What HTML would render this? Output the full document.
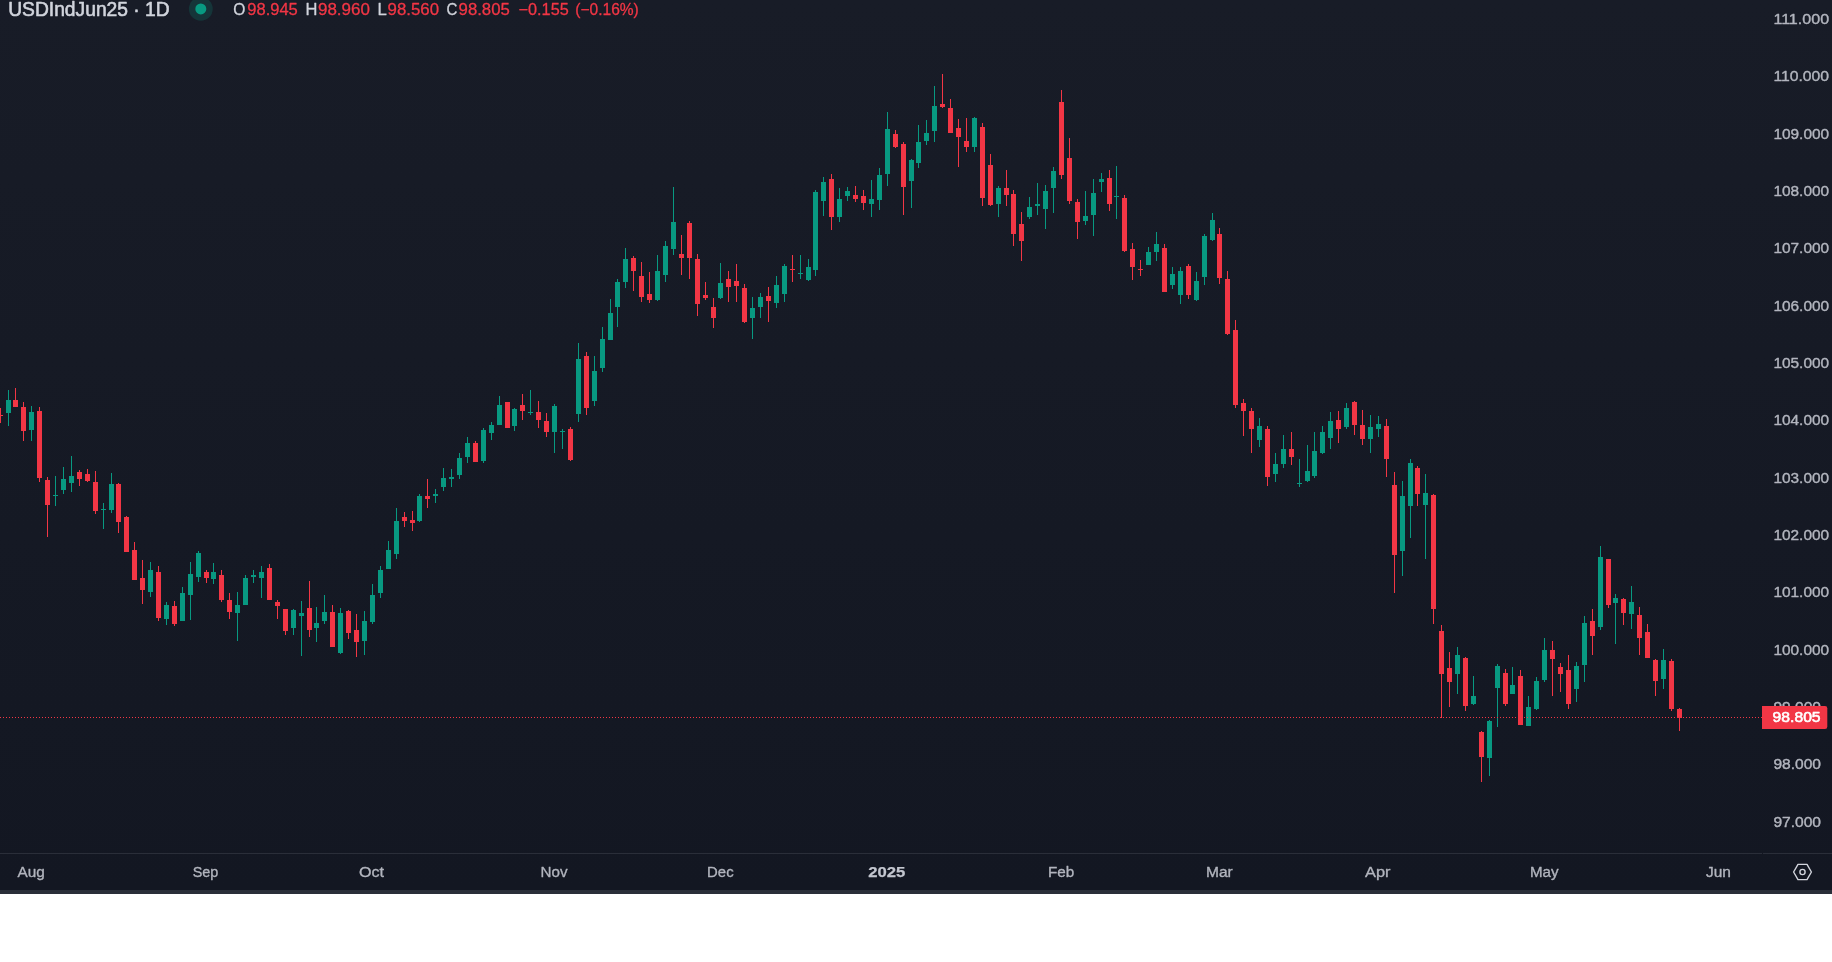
<!DOCTYPE html>
<html><head><meta charset="utf-8"><title>USDIndJun25 1D</title>
<style>html,body{margin:0;padding:0;background:#fff;}body{width:1832px;height:962px;overflow:hidden;font-family:"Liberation Sans",sans-serif;}svg{display:block;}text{font-family:"Liberation Sans",sans-serif;}</style></head><body>
<svg width="1832" height="962" viewBox="0 0 1832 962">
<defs><linearGradient id="bg" x1="0" y1="0" x2="0" y2="1"><stop offset="0" stop-color="#181c27"/><stop offset="1" stop-color="#131722"/></linearGradient></defs>
<rect x="0" y="0" width="1832" height="962" fill="#ffffff"/>
<rect x="0" y="0" width="1832" height="890" fill="url(#bg)"/>
<rect x="0" y="890" width="1832" height="4" fill="#2a2e39"/>
<rect x="0" y="853" width="1832" height="1" fill="#2a2e39"/>
<rect x="1762" y="853" width="1" height="1" fill="#131722"/>
<g shape-rendering="crispEdges">
<rect x="0" y="408" width="1" height="15" fill="#f23645"/><rect x="-2" y="415" width="5" height="1" fill="#f23645"/>
<rect x="8" y="390" width="1" height="36" fill="#089981"/><rect x="6" y="400" width="5" height="13" fill="#089981"/>
<rect x="15" y="388" width="1" height="19" fill="#f23645"/><rect x="13" y="400" width="5" height="7" fill="#f23645"/>
<rect x="23" y="402" width="1" height="39" fill="#f23645"/><rect x="21" y="407" width="5" height="24" fill="#f23645"/>
<rect x="31" y="406" width="1" height="35" fill="#089981"/><rect x="29" y="412" width="5" height="18" fill="#089981"/>
<rect x="39" y="407" width="1" height="75" fill="#f23645"/><rect x="37" y="411" width="5" height="67" fill="#f23645"/>
<rect x="47" y="477" width="1" height="60" fill="#f23645"/><rect x="45" y="480" width="5" height="25" fill="#f23645"/>
<rect x="55" y="476" width="1" height="30" fill="#089981"/><rect x="53" y="495" width="5" height="1" fill="#089981"/>
<rect x="63" y="467" width="1" height="27" fill="#089981"/><rect x="61" y="479" width="5" height="11" fill="#089981"/>
<rect x="71" y="456" width="1" height="36" fill="#089981"/><rect x="69" y="476" width="5" height="7" fill="#089981"/>
<rect x="79" y="470" width="1" height="16" fill="#f23645"/><rect x="77" y="472" width="5" height="7" fill="#f23645"/>
<rect x="87" y="469" width="1" height="13" fill="#f23645"/><rect x="85" y="474" width="5" height="7" fill="#f23645"/>
<rect x="95" y="471" width="1" height="43" fill="#f23645"/><rect x="93" y="482" width="5" height="29" fill="#f23645"/>
<rect x="103" y="503" width="1" height="26" fill="#089981"/><rect x="101" y="509" width="5" height="1" fill="#089981"/>
<rect x="111" y="473" width="1" height="40" fill="#089981"/><rect x="109" y="484" width="5" height="26" fill="#089981"/>
<rect x="118" y="483" width="1" height="50" fill="#f23645"/><rect x="116" y="484" width="5" height="38" fill="#f23645"/>
<rect x="126" y="516" width="1" height="36" fill="#f23645"/><rect x="124" y="517" width="5" height="35" fill="#f23645"/>
<rect x="134" y="542" width="1" height="38" fill="#f23645"/><rect x="132" y="550" width="5" height="30" fill="#f23645"/>
<rect x="142" y="560" width="1" height="44" fill="#f23645"/><rect x="140" y="578" width="5" height="12" fill="#f23645"/>
<rect x="150" y="562" width="1" height="35" fill="#089981"/><rect x="148" y="570" width="5" height="22" fill="#089981"/>
<rect x="158" y="566" width="1" height="55" fill="#f23645"/><rect x="156" y="572" width="5" height="46" fill="#f23645"/>
<rect x="166" y="602" width="1" height="23" fill="#089981"/><rect x="164" y="605" width="5" height="14" fill="#089981"/>
<rect x="174" y="601" width="1" height="25" fill="#f23645"/><rect x="172" y="606" width="5" height="18" fill="#f23645"/>
<rect x="182" y="587" width="1" height="34" fill="#089981"/><rect x="180" y="593" width="5" height="28" fill="#089981"/>
<rect x="190" y="562" width="1" height="58" fill="#089981"/><rect x="188" y="574" width="5" height="21" fill="#089981"/>
<rect x="198" y="551" width="1" height="31" fill="#089981"/><rect x="196" y="553" width="5" height="24" fill="#089981"/>
<rect x="206" y="570" width="1" height="13" fill="#f23645"/><rect x="204" y="572" width="5" height="6" fill="#f23645"/>
<rect x="213" y="563" width="1" height="21" fill="#089981"/><rect x="211" y="572" width="5" height="7" fill="#089981"/>
<rect x="221" y="570" width="1" height="32" fill="#f23645"/><rect x="219" y="575" width="5" height="25" fill="#f23645"/>
<rect x="229" y="593" width="1" height="26" fill="#f23645"/><rect x="227" y="600" width="5" height="12" fill="#f23645"/>
<rect x="237" y="592" width="1" height="49" fill="#089981"/><rect x="235" y="605" width="5" height="8" fill="#089981"/>
<rect x="245" y="575" width="1" height="30" fill="#089981"/><rect x="243" y="578" width="5" height="27" fill="#089981"/>
<rect x="253" y="570" width="1" height="13" fill="#089981"/><rect x="251" y="575" width="5" height="2" fill="#089981"/>
<rect x="261" y="566" width="1" height="32" fill="#089981"/><rect x="259" y="572" width="5" height="6" fill="#089981"/>
<rect x="269" y="564" width="1" height="36" fill="#f23645"/><rect x="267" y="568" width="5" height="32" fill="#f23645"/>
<rect x="277" y="600" width="1" height="19" fill="#f23645"/><rect x="275" y="602" width="5" height="4" fill="#f23645"/>
<rect x="285" y="609" width="1" height="26" fill="#f23645"/><rect x="283" y="609" width="5" height="22" fill="#f23645"/>
<rect x="293" y="609" width="1" height="26" fill="#089981"/><rect x="291" y="610" width="5" height="18" fill="#089981"/>
<rect x="301" y="601" width="1" height="55" fill="#089981"/><rect x="299" y="613" width="5" height="3" fill="#089981"/>
<rect x="309" y="581" width="1" height="56" fill="#f23645"/><rect x="307" y="608" width="5" height="22" fill="#f23645"/>
<rect x="316" y="607" width="1" height="35" fill="#089981"/><rect x="314" y="623" width="5" height="5" fill="#089981"/>
<rect x="324" y="595" width="1" height="29" fill="#089981"/><rect x="322" y="612" width="5" height="9" fill="#089981"/>
<rect x="332" y="605" width="1" height="42" fill="#f23645"/><rect x="330" y="612" width="5" height="35" fill="#f23645"/>
<rect x="340" y="608" width="1" height="46" fill="#089981"/><rect x="338" y="613" width="5" height="40" fill="#089981"/>
<rect x="348" y="610" width="1" height="29" fill="#f23645"/><rect x="346" y="611" width="5" height="22" fill="#f23645"/>
<rect x="356" y="614" width="1" height="43" fill="#f23645"/><rect x="354" y="630" width="5" height="12" fill="#f23645"/>
<rect x="364" y="611" width="1" height="44" fill="#089981"/><rect x="362" y="621" width="5" height="20" fill="#089981"/>
<rect x="372" y="584" width="1" height="40" fill="#089981"/><rect x="370" y="595" width="5" height="27" fill="#089981"/>
<rect x="380" y="566" width="1" height="32" fill="#089981"/><rect x="378" y="570" width="5" height="23" fill="#089981"/>
<rect x="388" y="541" width="1" height="28" fill="#089981"/><rect x="386" y="550" width="5" height="19" fill="#089981"/>
<rect x="396" y="508" width="1" height="51" fill="#089981"/><rect x="394" y="521" width="5" height="33" fill="#089981"/>
<rect x="404" y="512" width="1" height="15" fill="#f23645"/><rect x="402" y="517" width="5" height="4" fill="#f23645"/>
<rect x="412" y="511" width="1" height="20" fill="#f23645"/><rect x="410" y="520" width="5" height="3" fill="#f23645"/>
<rect x="419" y="494" width="1" height="28" fill="#089981"/><rect x="417" y="496" width="5" height="25" fill="#089981"/>
<rect x="427" y="479" width="1" height="29" fill="#f23645"/><rect x="425" y="496" width="5" height="3" fill="#f23645"/>
<rect x="435" y="489" width="1" height="14" fill="#089981"/><rect x="433" y="494" width="5" height="2" fill="#089981"/>
<rect x="443" y="468" width="1" height="23" fill="#089981"/><rect x="441" y="478" width="5" height="9" fill="#089981"/>
<rect x="451" y="469" width="1" height="18" fill="#089981"/><rect x="449" y="477" width="5" height="2" fill="#089981"/>
<rect x="459" y="453" width="1" height="26" fill="#089981"/><rect x="457" y="458" width="5" height="17" fill="#089981"/>
<rect x="467" y="437" width="1" height="26" fill="#089981"/><rect x="465" y="443" width="5" height="14" fill="#089981"/>
<rect x="475" y="441" width="1" height="21" fill="#f23645"/><rect x="473" y="443" width="5" height="19" fill="#f23645"/>
<rect x="483" y="428" width="1" height="35" fill="#089981"/><rect x="481" y="430" width="5" height="31" fill="#089981"/>
<rect x="491" y="422" width="1" height="18" fill="#089981"/><rect x="489" y="425" width="5" height="8" fill="#089981"/>
<rect x="499" y="396" width="1" height="29" fill="#089981"/><rect x="497" y="405" width="5" height="20" fill="#089981"/>
<rect x="507" y="402" width="1" height="26" fill="#f23645"/><rect x="505" y="402" width="5" height="26" fill="#f23645"/>
<rect x="514" y="408" width="1" height="23" fill="#089981"/><rect x="512" y="409" width="5" height="17" fill="#089981"/>
<rect x="522" y="394" width="1" height="26" fill="#f23645"/><rect x="520" y="405" width="5" height="6" fill="#f23645"/>
<rect x="530" y="390" width="1" height="25" fill="#089981"/><rect x="528" y="412" width="5" height="1" fill="#089981"/>
<rect x="538" y="401" width="1" height="27" fill="#f23645"/><rect x="536" y="412" width="5" height="8" fill="#f23645"/>
<rect x="546" y="413" width="1" height="24" fill="#f23645"/><rect x="544" y="421" width="5" height="11" fill="#f23645"/>
<rect x="554" y="404" width="1" height="49" fill="#089981"/><rect x="552" y="406" width="5" height="26" fill="#089981"/>
<rect x="562" y="429" width="1" height="20" fill="#089981"/><rect x="560" y="431" width="5" height="1" fill="#089981"/>
<rect x="570" y="427" width="1" height="34" fill="#f23645"/><rect x="568" y="429" width="5" height="31" fill="#f23645"/>
<rect x="578" y="343" width="1" height="79" fill="#089981"/><rect x="576" y="359" width="5" height="55" fill="#089981"/>
<rect x="586" y="352" width="1" height="63" fill="#f23645"/><rect x="584" y="356" width="5" height="52" fill="#f23645"/>
<rect x="594" y="356" width="1" height="50" fill="#089981"/><rect x="592" y="371" width="5" height="30" fill="#089981"/>
<rect x="602" y="327" width="1" height="45" fill="#089981"/><rect x="600" y="339" width="5" height="29" fill="#089981"/>
<rect x="610" y="299" width="1" height="41" fill="#089981"/><rect x="608" y="313" width="5" height="27" fill="#089981"/>
<rect x="617" y="279" width="1" height="48" fill="#089981"/><rect x="615" y="282" width="5" height="25" fill="#089981"/>
<rect x="625" y="248" width="1" height="40" fill="#089981"/><rect x="623" y="259" width="5" height="23" fill="#089981"/>
<rect x="633" y="256" width="1" height="35" fill="#f23645"/><rect x="631" y="258" width="5" height="13" fill="#f23645"/>
<rect x="641" y="262" width="1" height="40" fill="#f23645"/><rect x="639" y="276" width="5" height="21" fill="#f23645"/>
<rect x="649" y="272" width="1" height="31" fill="#f23645"/><rect x="647" y="294" width="5" height="6" fill="#f23645"/>
<rect x="657" y="255" width="1" height="46" fill="#089981"/><rect x="655" y="271" width="5" height="29" fill="#089981"/>
<rect x="665" y="241" width="1" height="41" fill="#089981"/><rect x="663" y="246" width="5" height="29" fill="#089981"/>
<rect x="673" y="187" width="1" height="68" fill="#089981"/><rect x="671" y="222" width="5" height="27" fill="#089981"/>
<rect x="681" y="235" width="1" height="40" fill="#f23645"/><rect x="679" y="254" width="5" height="4" fill="#f23645"/>
<rect x="689" y="221" width="1" height="58" fill="#f23645"/><rect x="687" y="223" width="5" height="35" fill="#f23645"/>
<rect x="697" y="254" width="1" height="62" fill="#f23645"/><rect x="695" y="259" width="5" height="45" fill="#f23645"/>
<rect x="705" y="282" width="1" height="18" fill="#f23645"/><rect x="703" y="295" width="5" height="3" fill="#f23645"/>
<rect x="713" y="298" width="1" height="30" fill="#f23645"/><rect x="711" y="307" width="5" height="11" fill="#f23645"/>
<rect x="720" y="263" width="1" height="36" fill="#089981"/><rect x="718" y="283" width="5" height="15" fill="#089981"/>
<rect x="728" y="271" width="1" height="31" fill="#f23645"/><rect x="726" y="279" width="5" height="8" fill="#f23645"/>
<rect x="736" y="264" width="1" height="38" fill="#f23645"/><rect x="734" y="281" width="5" height="5" fill="#f23645"/>
<rect x="744" y="284" width="1" height="39" fill="#f23645"/><rect x="742" y="288" width="5" height="34" fill="#f23645"/>
<rect x="752" y="297" width="1" height="42" fill="#089981"/><rect x="750" y="308" width="5" height="10" fill="#089981"/>
<rect x="760" y="293" width="1" height="25" fill="#089981"/><rect x="758" y="297" width="5" height="10" fill="#089981"/>
<rect x="768" y="287" width="1" height="35" fill="#f23645"/><rect x="766" y="296" width="5" height="5" fill="#f23645"/>
<rect x="776" y="276" width="1" height="32" fill="#089981"/><rect x="774" y="285" width="5" height="18" fill="#089981"/>
<rect x="784" y="264" width="1" height="38" fill="#089981"/><rect x="782" y="266" width="5" height="28" fill="#089981"/>
<rect x="792" y="255" width="1" height="27" fill="#f23645"/><rect x="790" y="269" width="5" height="1" fill="#f23645"/>
<rect x="800" y="255" width="1" height="24" fill="#089981"/><rect x="798" y="273" width="5" height="1" fill="#089981"/>
<rect x="808" y="259" width="1" height="22" fill="#089981"/><rect x="806" y="267" width="5" height="13" fill="#089981"/>
<rect x="815" y="190" width="1" height="86" fill="#089981"/><rect x="813" y="192" width="5" height="78" fill="#089981"/>
<rect x="823" y="177" width="1" height="39" fill="#089981"/><rect x="821" y="182" width="5" height="19" fill="#089981"/>
<rect x="831" y="174" width="1" height="56" fill="#f23645"/><rect x="829" y="179" width="5" height="38" fill="#f23645"/>
<rect x="839" y="188" width="1" height="34" fill="#089981"/><rect x="837" y="199" width="5" height="18" fill="#089981"/>
<rect x="847" y="187" width="1" height="14" fill="#089981"/><rect x="845" y="191" width="5" height="5" fill="#089981"/>
<rect x="855" y="186" width="1" height="16" fill="#f23645"/><rect x="853" y="195" width="5" height="4" fill="#f23645"/>
<rect x="863" y="190" width="1" height="20" fill="#f23645"/><rect x="861" y="196" width="5" height="7" fill="#f23645"/>
<rect x="871" y="180" width="1" height="37" fill="#089981"/><rect x="869" y="199" width="5" height="5" fill="#089981"/>
<rect x="879" y="168" width="1" height="42" fill="#089981"/><rect x="877" y="175" width="5" height="25" fill="#089981"/>
<rect x="887" y="112" width="1" height="74" fill="#089981"/><rect x="885" y="129" width="5" height="45" fill="#089981"/>
<rect x="895" y="130" width="1" height="18" fill="#f23645"/><rect x="893" y="134" width="5" height="13" fill="#f23645"/>
<rect x="903" y="142" width="1" height="73" fill="#f23645"/><rect x="901" y="144" width="5" height="43" fill="#f23645"/>
<rect x="911" y="159" width="1" height="49" fill="#089981"/><rect x="909" y="160" width="5" height="21" fill="#089981"/>
<rect x="918" y="125" width="1" height="43" fill="#089981"/><rect x="916" y="142" width="5" height="21" fill="#089981"/>
<rect x="926" y="120" width="1" height="25" fill="#089981"/><rect x="924" y="133" width="5" height="8" fill="#089981"/>
<rect x="934" y="86" width="1" height="56" fill="#089981"/><rect x="932" y="106" width="5" height="25" fill="#089981"/>
<rect x="942" y="74" width="1" height="34" fill="#f23645"/><rect x="940" y="104" width="5" height="3" fill="#f23645"/>
<rect x="950" y="99" width="1" height="34" fill="#f23645"/><rect x="948" y="108" width="5" height="25" fill="#f23645"/>
<rect x="958" y="119" width="1" height="48" fill="#f23645"/><rect x="956" y="128" width="5" height="9" fill="#f23645"/>
<rect x="966" y="118" width="1" height="34" fill="#f23645"/><rect x="964" y="141" width="5" height="6" fill="#f23645"/>
<rect x="974" y="117" width="1" height="35" fill="#089981"/><rect x="972" y="118" width="5" height="29" fill="#089981"/>
<rect x="982" y="123" width="1" height="83" fill="#f23645"/><rect x="980" y="127" width="5" height="71" fill="#f23645"/>
<rect x="990" y="154" width="1" height="52" fill="#f23645"/><rect x="988" y="165" width="5" height="40" fill="#f23645"/>
<rect x="998" y="186" width="1" height="31" fill="#089981"/><rect x="996" y="188" width="5" height="16" fill="#089981"/>
<rect x="1006" y="170" width="1" height="36" fill="#f23645"/><rect x="1004" y="188" width="5" height="7" fill="#f23645"/>
<rect x="1013" y="190" width="1" height="56" fill="#f23645"/><rect x="1011" y="194" width="5" height="40" fill="#f23645"/>
<rect x="1021" y="212" width="1" height="49" fill="#f23645"/><rect x="1019" y="224" width="5" height="17" fill="#f23645"/>
<rect x="1029" y="197" width="1" height="22" fill="#089981"/><rect x="1027" y="207" width="5" height="10" fill="#089981"/>
<rect x="1037" y="183" width="1" height="32" fill="#089981"/><rect x="1035" y="204" width="5" height="2" fill="#089981"/>
<rect x="1045" y="185" width="1" height="44" fill="#089981"/><rect x="1043" y="191" width="5" height="18" fill="#089981"/>
<rect x="1053" y="167" width="1" height="46" fill="#089981"/><rect x="1051" y="171" width="5" height="17" fill="#089981"/>
<rect x="1061" y="90" width="1" height="89" fill="#f23645"/><rect x="1059" y="102" width="5" height="73" fill="#f23645"/>
<rect x="1069" y="138" width="1" height="66" fill="#f23645"/><rect x="1067" y="158" width="5" height="43" fill="#f23645"/>
<rect x="1077" y="199" width="1" height="40" fill="#f23645"/><rect x="1075" y="202" width="5" height="20" fill="#f23645"/>
<rect x="1085" y="191" width="1" height="34" fill="#089981"/><rect x="1083" y="216" width="5" height="5" fill="#089981"/>
<rect x="1093" y="179" width="1" height="57" fill="#089981"/><rect x="1091" y="193" width="5" height="22" fill="#089981"/>
<rect x="1101" y="173" width="1" height="19" fill="#089981"/><rect x="1099" y="179" width="5" height="3" fill="#089981"/>
<rect x="1109" y="170" width="1" height="41" fill="#f23645"/><rect x="1107" y="178" width="5" height="26" fill="#f23645"/>
<rect x="1116" y="166" width="1" height="53" fill="#089981"/><rect x="1114" y="196" width="5" height="1" fill="#089981"/>
<rect x="1124" y="195" width="1" height="57" fill="#f23645"/><rect x="1122" y="198" width="5" height="53" fill="#f23645"/>
<rect x="1132" y="243" width="1" height="37" fill="#f23645"/><rect x="1130" y="249" width="5" height="18" fill="#f23645"/>
<rect x="1140" y="260" width="1" height="16" fill="#f23645"/><rect x="1138" y="269" width="5" height="1" fill="#f23645"/>
<rect x="1148" y="247" width="1" height="18" fill="#089981"/><rect x="1146" y="252" width="5" height="13" fill="#089981"/>
<rect x="1156" y="232" width="1" height="29" fill="#089981"/><rect x="1154" y="244" width="5" height="8" fill="#089981"/>
<rect x="1164" y="244" width="1" height="48" fill="#f23645"/><rect x="1162" y="248" width="5" height="44" fill="#f23645"/>
<rect x="1172" y="267" width="1" height="22" fill="#089981"/><rect x="1170" y="274" width="5" height="11" fill="#089981"/>
<rect x="1180" y="267" width="1" height="37" fill="#089981"/><rect x="1178" y="271" width="5" height="24" fill="#089981"/>
<rect x="1188" y="264" width="1" height="35" fill="#f23645"/><rect x="1186" y="266" width="5" height="29" fill="#f23645"/>
<rect x="1196" y="272" width="1" height="29" fill="#089981"/><rect x="1194" y="281" width="5" height="19" fill="#089981"/>
<rect x="1204" y="234" width="1" height="51" fill="#089981"/><rect x="1202" y="236" width="5" height="41" fill="#089981"/>
<rect x="1212" y="213" width="1" height="28" fill="#089981"/><rect x="1210" y="220" width="5" height="20" fill="#089981"/>
<rect x="1219" y="228" width="1" height="56" fill="#f23645"/><rect x="1217" y="234" width="5" height="44" fill="#f23645"/>
<rect x="1227" y="271" width="1" height="64" fill="#f23645"/><rect x="1225" y="279" width="5" height="55" fill="#f23645"/>
<rect x="1235" y="320" width="1" height="88" fill="#f23645"/><rect x="1233" y="330" width="5" height="75" fill="#f23645"/>
<rect x="1243" y="399" width="1" height="37" fill="#f23645"/><rect x="1241" y="403" width="5" height="8" fill="#f23645"/>
<rect x="1251" y="408" width="1" height="45" fill="#f23645"/><rect x="1249" y="411" width="5" height="18" fill="#f23645"/>
<rect x="1259" y="418" width="1" height="29" fill="#089981"/><rect x="1257" y="426" width="5" height="14" fill="#089981"/>
<rect x="1267" y="426" width="1" height="60" fill="#f23645"/><rect x="1265" y="429" width="5" height="48" fill="#f23645"/>
<rect x="1275" y="453" width="1" height="29" fill="#089981"/><rect x="1273" y="464" width="5" height="10" fill="#089981"/>
<rect x="1283" y="435" width="1" height="33" fill="#089981"/><rect x="1281" y="449" width="5" height="15" fill="#089981"/>
<rect x="1291" y="432" width="1" height="33" fill="#f23645"/><rect x="1289" y="449" width="5" height="8" fill="#f23645"/>
<rect x="1299" y="459" width="1" height="28" fill="#089981"/><rect x="1297" y="483" width="5" height="1" fill="#089981"/>
<rect x="1307" y="445" width="1" height="37" fill="#089981"/><rect x="1305" y="471" width="5" height="10" fill="#089981"/>
<rect x="1314" y="432" width="1" height="46" fill="#089981"/><rect x="1312" y="451" width="5" height="25" fill="#089981"/>
<rect x="1322" y="426" width="1" height="28" fill="#089981"/><rect x="1320" y="432" width="5" height="21" fill="#089981"/>
<rect x="1330" y="412" width="1" height="37" fill="#089981"/><rect x="1328" y="421" width="5" height="17" fill="#089981"/>
<rect x="1338" y="411" width="1" height="32" fill="#f23645"/><rect x="1336" y="420" width="5" height="9" fill="#f23645"/>
<rect x="1346" y="403" width="1" height="26" fill="#089981"/><rect x="1344" y="408" width="5" height="19" fill="#089981"/>
<rect x="1354" y="401" width="1" height="34" fill="#f23645"/><rect x="1352" y="402" width="5" height="23" fill="#f23645"/>
<rect x="1362" y="410" width="1" height="35" fill="#f23645"/><rect x="1360" y="425" width="5" height="14" fill="#f23645"/>
<rect x="1370" y="415" width="1" height="38" fill="#089981"/><rect x="1368" y="427" width="5" height="12" fill="#089981"/>
<rect x="1378" y="416" width="1" height="21" fill="#089981"/><rect x="1376" y="424" width="5" height="5" fill="#089981"/>
<rect x="1386" y="419" width="1" height="58" fill="#f23645"/><rect x="1384" y="426" width="5" height="33" fill="#f23645"/>
<rect x="1394" y="472" width="1" height="121" fill="#f23645"/><rect x="1392" y="485" width="5" height="70" fill="#f23645"/>
<rect x="1402" y="481" width="1" height="95" fill="#089981"/><rect x="1400" y="496" width="5" height="55" fill="#089981"/>
<rect x="1410" y="459" width="1" height="79" fill="#089981"/><rect x="1408" y="463" width="5" height="43" fill="#089981"/>
<rect x="1417" y="466" width="1" height="40" fill="#f23645"/><rect x="1415" y="468" width="5" height="26" fill="#f23645"/>
<rect x="1425" y="474" width="1" height="85" fill="#089981"/><rect x="1423" y="493" width="5" height="12" fill="#089981"/>
<rect x="1433" y="494" width="1" height="130" fill="#f23645"/><rect x="1431" y="495" width="5" height="114" fill="#f23645"/>
<rect x="1441" y="625" width="1" height="93" fill="#f23645"/><rect x="1439" y="631" width="5" height="43" fill="#f23645"/>
<rect x="1449" y="652" width="1" height="55" fill="#f23645"/><rect x="1447" y="668" width="5" height="14" fill="#f23645"/>
<rect x="1457" y="647" width="1" height="47" fill="#089981"/><rect x="1455" y="655" width="5" height="19" fill="#089981"/>
<rect x="1465" y="657" width="1" height="54" fill="#f23645"/><rect x="1463" y="658" width="5" height="48" fill="#f23645"/>
<rect x="1473" y="676" width="1" height="29" fill="#089981"/><rect x="1471" y="696" width="5" height="8" fill="#089981"/>
<rect x="1481" y="731" width="1" height="51" fill="#f23645"/><rect x="1479" y="732" width="5" height="25" fill="#f23645"/>
<rect x="1489" y="720" width="1" height="56" fill="#089981"/><rect x="1487" y="721" width="5" height="37" fill="#089981"/>
<rect x="1497" y="664" width="1" height="63" fill="#089981"/><rect x="1495" y="666" width="5" height="22" fill="#089981"/>
<rect x="1505" y="669" width="1" height="37" fill="#f23645"/><rect x="1503" y="673" width="5" height="31" fill="#f23645"/>
<rect x="1512" y="667" width="1" height="27" fill="#089981"/><rect x="1510" y="685" width="5" height="9" fill="#089981"/>
<rect x="1520" y="670" width="1" height="55" fill="#f23645"/><rect x="1518" y="676" width="5" height="49" fill="#f23645"/>
<rect x="1528" y="696" width="1" height="30" fill="#089981"/><rect x="1526" y="707" width="5" height="19" fill="#089981"/>
<rect x="1536" y="677" width="1" height="33" fill="#089981"/><rect x="1534" y="681" width="5" height="28" fill="#089981"/>
<rect x="1544" y="638" width="1" height="44" fill="#089981"/><rect x="1542" y="650" width="5" height="30" fill="#089981"/>
<rect x="1552" y="641" width="1" height="55" fill="#f23645"/><rect x="1550" y="650" width="5" height="9" fill="#f23645"/>
<rect x="1560" y="663" width="1" height="29" fill="#f23645"/><rect x="1558" y="667" width="5" height="7" fill="#f23645"/>
<rect x="1568" y="655" width="1" height="54" fill="#f23645"/><rect x="1566" y="670" width="5" height="34" fill="#f23645"/>
<rect x="1576" y="662" width="1" height="40" fill="#089981"/><rect x="1574" y="666" width="5" height="23" fill="#089981"/>
<rect x="1584" y="616" width="1" height="66" fill="#089981"/><rect x="1582" y="623" width="5" height="42" fill="#089981"/>
<rect x="1592" y="609" width="1" height="46" fill="#f23645"/><rect x="1590" y="621" width="5" height="15" fill="#f23645"/>
<rect x="1600" y="546" width="1" height="84" fill="#089981"/><rect x="1598" y="557" width="5" height="70" fill="#089981"/>
<rect x="1608" y="559" width="1" height="49" fill="#f23645"/><rect x="1606" y="559" width="5" height="46" fill="#f23645"/>
<rect x="1615" y="594" width="1" height="50" fill="#089981"/><rect x="1613" y="598" width="5" height="5" fill="#089981"/>
<rect x="1623" y="598" width="1" height="27" fill="#f23645"/><rect x="1621" y="599" width="5" height="14" fill="#f23645"/>
<rect x="1631" y="586" width="1" height="43" fill="#089981"/><rect x="1629" y="602" width="5" height="12" fill="#089981"/>
<rect x="1639" y="607" width="1" height="48" fill="#f23645"/><rect x="1637" y="615" width="5" height="23" fill="#f23645"/>
<rect x="1647" y="624" width="1" height="34" fill="#f23645"/><rect x="1645" y="632" width="5" height="26" fill="#f23645"/>
<rect x="1655" y="659" width="1" height="37" fill="#f23645"/><rect x="1653" y="660" width="5" height="21" fill="#f23645"/>
<rect x="1663" y="649" width="1" height="40" fill="#089981"/><rect x="1661" y="660" width="5" height="19" fill="#089981"/>
<rect x="1671" y="659" width="1" height="52" fill="#f23645"/><rect x="1669" y="661" width="5" height="48" fill="#f23645"/>
<rect x="1679" y="708" width="1" height="23" fill="#f23645"/><rect x="1677" y="709" width="5" height="9" fill="#f23645"/>
<line x1="0" y1="717.5" x2="1762" y2="717.5" stroke="#f23645" stroke-width="1" stroke-dasharray="1 2"/>
</g>
<g id="txt" stroke-linejoin="round" style="will-change:opacity;">
<text x="1773.4" y="24.10" font-size="15.1" fill="#b2b5be" stroke="#b2b5be" stroke-width="0.4" textLength="55.7" lengthAdjust="spacingAndGlyphs">111.000</text>
<text x="1773.4" y="81.43" font-size="15.1" fill="#b2b5be" stroke="#b2b5be" stroke-width="0.4" textLength="55.7" lengthAdjust="spacingAndGlyphs">110.000</text>
<text x="1773.4" y="138.75" font-size="15.1" fill="#b2b5be" stroke="#b2b5be" stroke-width="0.4" textLength="55.7" lengthAdjust="spacingAndGlyphs">109.000</text>
<text x="1773.4" y="196.08" font-size="15.1" fill="#b2b5be" stroke="#b2b5be" stroke-width="0.4" textLength="55.7" lengthAdjust="spacingAndGlyphs">108.000</text>
<text x="1773.4" y="253.40" font-size="15.1" fill="#b2b5be" stroke="#b2b5be" stroke-width="0.4" textLength="55.7" lengthAdjust="spacingAndGlyphs">107.000</text>
<text x="1773.4" y="310.72" font-size="15.1" fill="#b2b5be" stroke="#b2b5be" stroke-width="0.4" textLength="55.7" lengthAdjust="spacingAndGlyphs">106.000</text>
<text x="1773.4" y="368.05" font-size="15.1" fill="#b2b5be" stroke="#b2b5be" stroke-width="0.4" textLength="55.7" lengthAdjust="spacingAndGlyphs">105.000</text>
<text x="1773.4" y="425.38" font-size="15.1" fill="#b2b5be" stroke="#b2b5be" stroke-width="0.4" textLength="55.7" lengthAdjust="spacingAndGlyphs">104.000</text>
<text x="1773.4" y="482.70" font-size="15.1" fill="#b2b5be" stroke="#b2b5be" stroke-width="0.4" textLength="55.7" lengthAdjust="spacingAndGlyphs">103.000</text>
<text x="1773.4" y="540.03" font-size="15.1" fill="#b2b5be" stroke="#b2b5be" stroke-width="0.4" textLength="55.7" lengthAdjust="spacingAndGlyphs">102.000</text>
<text x="1773.4" y="597.35" font-size="15.1" fill="#b2b5be" stroke="#b2b5be" stroke-width="0.4" textLength="55.7" lengthAdjust="spacingAndGlyphs">101.000</text>
<text x="1773.4" y="654.68" font-size="15.1" fill="#b2b5be" stroke="#b2b5be" stroke-width="0.4" textLength="55.7" lengthAdjust="spacingAndGlyphs">100.000</text>
<text x="1773.4" y="712.00" font-size="15.1" fill="#b2b5be" stroke="#b2b5be" stroke-width="0.4" textLength="47.6" lengthAdjust="spacingAndGlyphs">99.000</text>
<text x="1773.4" y="769.33" font-size="15.1" fill="#b2b5be" stroke="#b2b5be" stroke-width="0.4" textLength="47.6" lengthAdjust="spacingAndGlyphs">98.000</text>
<text x="1773.4" y="826.65" font-size="15.1" fill="#b2b5be" stroke="#b2b5be" stroke-width="0.4" textLength="47.6" lengthAdjust="spacingAndGlyphs">97.000</text>
<path d="M1762 706 H1825 Q1827.3 706 1827.3 708.3 V726.7 Q1827.3 729 1825 729 H1762 Z" fill="#f23645"/>
<text x="1772.6" y="722.45" font-size="14.8" fill="#ffffff" stroke="#ffffff" stroke-width="0.6" textLength="48" lengthAdjust="spacingAndGlyphs">98.805</text>
<text x="17.6" y="877.0" font-size="15.4" fill="#b2b5be" stroke="#b2b5be" stroke-width="0.35" textLength="27.3" lengthAdjust="spacingAndGlyphs">Aug</text>
<text x="192.7" y="877.0" font-size="15.4" fill="#b2b5be" stroke="#b2b5be" stroke-width="0.35" textLength="25.6" lengthAdjust="spacingAndGlyphs">Sep</text>
<text x="359.1" y="877.0" font-size="15.4" fill="#b2b5be" stroke="#b2b5be" stroke-width="0.35" textLength="25.0" lengthAdjust="spacingAndGlyphs">Oct</text>
<text x="540.5" y="877.0" font-size="15.4" fill="#b2b5be" stroke="#b2b5be" stroke-width="0.35" textLength="27.0" lengthAdjust="spacingAndGlyphs">Nov</text>
<text x="707.1" y="877.0" font-size="15.4" fill="#b2b5be" stroke="#b2b5be" stroke-width="0.35" textLength="26.5" lengthAdjust="spacingAndGlyphs">Dec</text>
<text x="868.2" y="877" font-size="15.5" font-weight="bold" fill="#c3c6cf" stroke="#c3c6cf" stroke-width="0.25" textLength="37.1" lengthAdjust="spacingAndGlyphs">2025</text>
<text x="1048.0" y="877.0" font-size="15.4" fill="#b2b5be" stroke="#b2b5be" stroke-width="0.35" textLength="26.3" lengthAdjust="spacingAndGlyphs">Feb</text>
<text x="1206.0" y="877.0" font-size="15.4" fill="#b2b5be" stroke="#b2b5be" stroke-width="0.35" textLength="26.8" lengthAdjust="spacingAndGlyphs">Mar</text>
<text x="1365.0" y="877.0" font-size="15.4" fill="#b2b5be" stroke="#b2b5be" stroke-width="0.35" textLength="25.5" lengthAdjust="spacingAndGlyphs">Apr</text>
<text x="1529.9" y="877.0" font-size="15.4" fill="#b2b5be" stroke="#b2b5be" stroke-width="0.35" textLength="28.6" lengthAdjust="spacingAndGlyphs">May</text>
<text x="1705.9" y="877.0" font-size="15.4" fill="#b2b5be" stroke="#b2b5be" stroke-width="0.35" textLength="25.0" lengthAdjust="spacingAndGlyphs">Jun</text>
<g fill="none" stroke="#d1d4dc" stroke-width="1.4" stroke-linejoin="round"><path d="M1793.6 872 L1798 864.4 L1807 864.4 L1811.4 872 L1807 879.6 L1798 879.6 Z"/><circle cx="1802.5" cy="872" r="2.6"/></g>
<text x="8.2" y="16.3" font-size="20" fill="#d1d4dc" stroke="#d1d4dc" stroke-width="0.6" textLength="161.5" lengthAdjust="spacingAndGlyphs">USDIndJun25 · 1D</text>
<circle cx="200.8" cy="8.9" r="11.9" fill="#089981" fill-opacity="0.2"/><circle cx="200.8" cy="8.9" r="5.5" fill="#089981"/>
<text x="233.3" y="14.8" font-size="16" fill="#d1d4dc" stroke="#d1d4dc" stroke-width="0.3" textLength="12.1" lengthAdjust="spacingAndGlyphs">O</text>
<text x="247.3" y="14.8" font-size="16" fill="#f23645" stroke="#f23645" stroke-width="0.3" textLength="50.5" lengthAdjust="spacingAndGlyphs">98.945</text>
<text x="305.6" y="14.8" font-size="16" fill="#d1d4dc" stroke="#d1d4dc" stroke-width="0.3" textLength="11.9" lengthAdjust="spacingAndGlyphs">H</text>
<text x="318.0" y="14.8" font-size="16" fill="#f23645" stroke="#f23645" stroke-width="0.3" textLength="51.9" lengthAdjust="spacingAndGlyphs">98.960</text>
<text x="377.6" y="14.8" font-size="16" fill="#d1d4dc" stroke="#d1d4dc" stroke-width="0.3" textLength="9.3" lengthAdjust="spacingAndGlyphs">L</text>
<text x="387.6" y="14.8" font-size="16" fill="#f23645" stroke="#f23645" stroke-width="0.3" textLength="51.4" lengthAdjust="spacingAndGlyphs">98.560</text>
<text x="446.5" y="14.8" font-size="16" fill="#d1d4dc" stroke="#d1d4dc" stroke-width="0.3" textLength="10.9" lengthAdjust="spacingAndGlyphs">C</text>
<text x="458.6" y="14.8" font-size="16" fill="#f23645" stroke="#f23645" stroke-width="0.3" textLength="51.2" lengthAdjust="spacingAndGlyphs">98.805</text>
<text x="518.6" y="14.8" font-size="16" fill="#f23645" stroke="#f23645" stroke-width="0.3" textLength="50.1" lengthAdjust="spacingAndGlyphs">−0.155</text>
<text x="575.3" y="14.8" font-size="16" fill="#f23645" stroke="#f23645" stroke-width="0.3" textLength="63.5" lengthAdjust="spacingAndGlyphs">(−0.16%)</text>
</g>
</svg>
</body></html>
